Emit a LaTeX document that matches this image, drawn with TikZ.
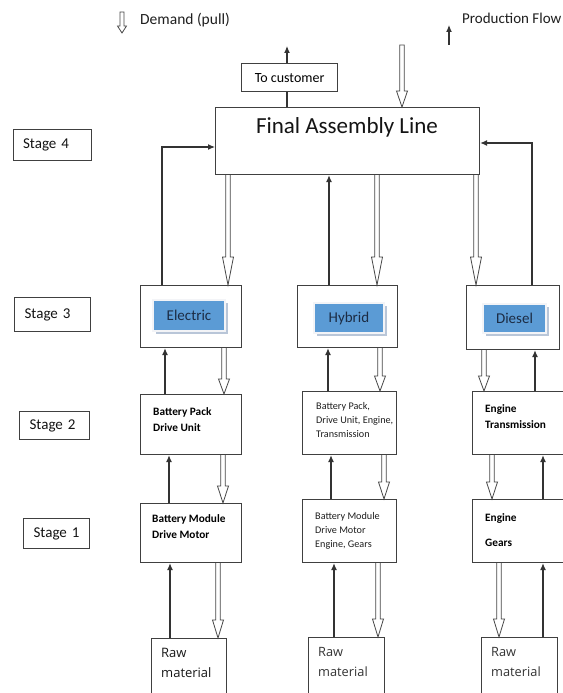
\documentclass[tikz,border=0pt]{standalone}
\usepackage{fontspec}
\setmainfont{Carlito}
\newfontfamily\rawfont{Open Sans}
\usetikzlibrary{arrows.meta,calc,shadows}
\definecolor{ln}{HTML}{333333}
\definecolor{bx}{HTML}{404040}
\definecolor{blu}{HTML}{5B9BD5}
\definecolor{navy}{HTML}{1C2C44}
\definecolor{shd}{HTML}{B9C6D8}
\definecolor{frm}{HTML}{F3F4F7}
\tikzset{
 box/.style={draw=bx, line width=1.2pt, fill=white, anchor=north west, inner sep=0pt},
 stagebox/.style={box, align=left, inner xsep=10pt, font=\fontsize{15}{18}\selectfont, text=black!92},
 tag/.style={fill=blu, draw=frm, line width=2pt, inner sep=0pt, anchor=north west,
   font=\fontsize{15}{18}\selectfont, text=navy,
   drop shadow={shadow xshift=2.5pt, shadow yshift=-2.5pt, fill=shd, opacity=1}},
 bt/.style={anchor=base west, inner sep=0pt, font=\fontsize{11.3}{13}\selectfont\bfseries},
 rt/.style={anchor=base west, inner sep=0pt, font=\fontsize{10.2}{12}\selectfont, text=black!88},
 rawt/.style={anchor=base west, inner sep=0pt, font=\rawfont\fontsize{12.8}{15}\selectfont, text=black!80},
 legt/.style={anchor=base west, inner sep=0pt, font=\fontsize{15.5}{18}\selectfont, text=black!88},
 flow/.style={draw=ln, line width=1.1pt, -{Latex[length=7pt,width=6pt]}},
 plainln/.style={draw=ln, line width=1.1pt},
 hollowst/.style={draw=ln!90, line width=0.8pt, fill=white, line join=miter},
}
\def\hhw{5.5}
\def\hsw{2.2}
\newcommand\harr[3][16]{%
 \draw[hollowst] let \p1=(#2), \p2=(#3) in
  (\x1-\hsw pt,\y1) -- (\x1-\hsw pt,\y2+#1pt) -- (\x1-\hhw pt,\y2+#1pt) -- (\x1,\y2)
  -- (\x1+\hhw pt,\y2+#1pt) -- (\x1+\hsw pt,\y2+#1pt) -- (\x1+\hsw pt,\y1);}
\newcommand\harrc[3][16]{%
 \draw[hollowst] let \p1=(#2), \p2=(#3) in
  (\x1-\hsw pt,\y1) -- (\x1-\hsw pt,\y2+#1pt) -- (\x1-\hhw pt,\y2+#1pt) -- (\x1,\y2)
  -- (\x1+\hhw pt,\y2+#1pt) -- (\x1+\hsw pt,\y2+#1pt) -- (\x1+\hsw pt,\y1) -- cycle;}
\begin{document}
\begin{tikzpicture}[x=1pt,y=-1pt]
\useasboundingbox[fill=white] (0,0) rectangle (562,693);

% legend
\coordinate (dA) at (122,12);
\coordinate (dB) at (122,33);
{\def\hhw{4.5}\def\hsw{2}\harrc[7]{dA}{dB}}
\node[legt] (dem) at (140,24.5) {Demand (pull)};
\coordinate (pA) at (449,45);
\coordinate (pB) at (449,25);
\draw[flow] (pA) -- (pB);
\node[legt, font=\fontsize{15}{18}\selectfont] (prod) at (462,24) {Production Flow};

% stage labels
\node[stagebox, text width=58.5pt, minimum height=31pt] (s4) at (12.5,129) {Stage 4};
\node[stagebox, text width=56pt, minimum height=34pt] (s3) at (14,297) {Stage 3};
\node[stagebox, text width=50pt, minimum height=28pt] (s2) at (19,411) {Stage 2};
\node[stagebox, text width=46pt, minimum height=30pt] (s1) at (23,518) {Stage 1};

% top
\node[box, minimum width=96pt, minimum height=28pt, font=\fontsize{14}{16}\selectfont] (cust) at (241,63) {To customer};
\node[box, minimum width=264pt, minimum height=67pt] (fin) at (215,107) {};
\node[inner sep=0pt, anchor=base, font=\fontsize{23}{27}\selectfont, text=black!92] (finT) at (347,133) {Final Assembly Line};

% stage 3
\node[box, minimum width=101pt, minimum height=62pt] (e3) at (140,285) {};
\node[box, minimum width=100pt, minimum height=62pt] (h3) at (297,285) {};
\node[box, minimum width=93pt, minimum height=64pt] (d3) at (466,285) {};
\node[tag, minimum width=72pt, minimum height=31pt] (et) at (152,299) {Electric};
\node[tag, minimum width=70pt, minimum height=30pt] (ht) at (313,302) {Hybrid};
\node[tag, minimum width=63pt, minimum height=29pt] (dt) at (482,303) {Diesel};

% stage 2
\node[box, minimum width=101pt, minimum height=60pt] (e2) at (140,394) {};
\node[box, minimum width=94pt, minimum height=63pt] (h2) at (302,391) {};
\node[box, minimum width=110pt, minimum height=63pt] (d2) at (472,391) {};
\node[bt] (e2a) at (153,415) {Battery Pack};
\node[bt] (e2b) at (153,431) {Drive Unit};
\node[rt] (h2a) at (316,409.5) {Battery Pack,};
\node[rt] (h2b) at (316,423) {Drive Unit, Engine,};
\node[rt] (h2c) at (316,437) {Transmission};
\node[bt] (d2a) at (485,412) {Engine};
\node[bt] (d2b) at (485,428) {Transmission};

% stage 1
\node[box, minimum width=101pt, minimum height=59pt] (e1) at (140,503) {};
\node[box, minimum width=94pt, minimum height=63pt] (h1) at (302,499) {};
\node[box, minimum width=110pt, minimum height=63pt] (d1) at (472,499) {};
\node[bt] (e1a) at (152,522) {Battery Module};
\node[bt] (e1b) at (152,538) {Drive Motor};
\node[rt] (h1a) at (315,519) {Battery Module};
\node[rt] (h1b) at (315,533) {Drive Motor};
\node[rt] (h1c) at (315,547) {Engine, Gears};
\node[bt] (d1a) at (485,521) {Engine};
\node[bt] (d1b) at (485,546) {Gears};

% raw material
\node[box, minimum width=75pt, minimum height=70pt] (er) at (151,638) {};
\node[box, minimum width=76pt, minimum height=70pt] (hr) at (308,637) {};
\node[box, minimum width=76pt, minimum height=70pt] (dr) at (481,637) {};
\node[rawt, font=\rawfont\fontsize{13}{15}\selectfont, text=black!90] (era) at (161,657.5) {Raw};
\node[rawt, font=\rawfont\fontsize{13}{15}\selectfont, text=black!90] (erb) at (161,677) {material};
\node[rawt] (hra) at (318,656.5) {Raw};
\node[rawt] (hrb) at (318,676) {material};
\node[rawt] (dra) at (491,656.5) {Raw};
\node[rawt] (drb) at (491,676) {material};

% --- connectors: top
\coordinate (cu) at (287,46);
\draw[plainln] (fin.north -| cu) -- (cust.south -| cu);
\draw[flow] (cust.north -| cu) -- (cu);
\coordinate (dm) at (402,45);
\harrc[16]{dm}{fin.north -| dm}

% final <-> stage 3
\coordinate (yL) at (0,147);
\coordinate (yR) at (0,143);
\coordinate (c1) at (162,0);
\coordinate (c2) at (228,0);
\coordinate (c3) at (329,0);
\coordinate (c4) at (377,0);
\coordinate (c5) at (476,0);
\coordinate (c6) at (532,0);
\draw[flow] (e3.north -| c1) |- (fin.west |- yL);
\draw[flow] (d3.north -| c6) |- (fin.east |- yR);
\draw[flow] (h3.north -| c3) -- (fin.south -| c3);
\harr[28]{fin.south -| c2}{e3.north -| c2}
\harr[28]{fin.south -| c4}{h3.north -| c4}
\harr[28]{fin.south -| c5}{d3.north -| c5}

% stage 3 <-> stage 2
\coordinate (b1) at (165,0);
\coordinate (b2) at (224,0);
\coordinate (b3) at (328,0);
\coordinate (b4) at (380,0);
\coordinate (b5) at (484,0);
\coordinate (b6) at (535,0);
\draw[flow] (e2.north -| b1) -- (e3.south -| b1);
\draw[flow] (h2.north -| b3) -- (h3.south -| b3);
\draw[flow] (d2.north -| b6) -- (d3.south -| b6);
\harr[15]{e3.south -| b2}{e2.north -| b2}
\harr[15]{h3.south -| b4}{h2.north -| b4}
\harr[15]{d3.south -| b5}{d2.north -| b5}

% stage 2 <-> stage 1
\coordinate (a1) at (169,0);
\coordinate (a2) at (223,0);
\coordinate (a3) at (331,0);
\coordinate (a4) at (384,0);
\coordinate (a5) at (492,0);
\coordinate (a6) at (543,0);
\draw[flow] (e1.north -| a1) -- (e2.south -| a1);
\draw[flow] (h1.north -| a3) -- (h2.south -| a3);
\draw[flow] (d1.north -| a6) -- (d2.south -| a6);
\harr[17]{e2.south -| a2}{e1.north -| a2}
\harr[17]{h2.south -| a4}{h1.north -| a4}
\harr[17]{d2.south -| a5}{d1.north -| a5}

% stage 1 <-> raw material
\coordinate (r1) at (170,0);
\coordinate (r2) at (218,0);
\coordinate (r3) at (334,0);
\coordinate (r4) at (378,0);
\coordinate (r5) at (499,0);
\coordinate (r6) at (543,0);
\draw[flow] (er.north -| r1) -- (e1.south -| r1);
\draw[flow] (hr.north -| r3) -- (h1.south -| r3);
\draw[flow] (dr.north -| r6) -- (d1.south -| r6);
\harr[18]{e1.south -| r2}{er.north -| r2}
\harr[18]{h1.south -| r4}{hr.north -| r4}
\harr[18]{d1.south -| r5}{dr.north -| r5}
\end{tikzpicture}
\end{document}
